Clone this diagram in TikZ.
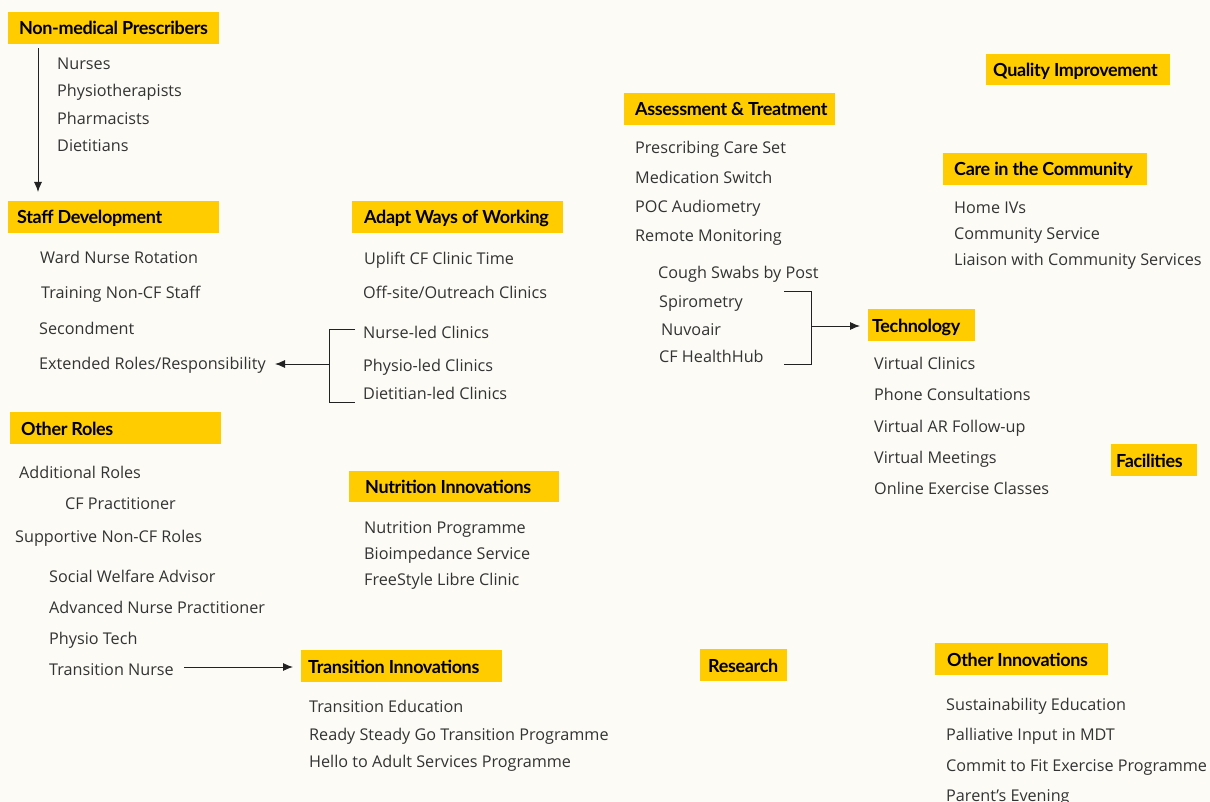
\documentclass[tikz,border=0pt]{standalone}
\usepackage{fontspec}
\setmainfont{Open Sans}
\newfontfamily\hdrfont[LetterSpace=-2]{Lato}
\usetikzlibrary{arrows.meta}
\definecolor{bg}{HTML}{FCFBF5}
\definecolor{cfy}{HTML}{FFCC00}
\definecolor{txt}{HTML}{333333}
\definecolor{ln}{HTML}{222222}
\tikzset{
  hdrbox/.style={fill=cfy, inner sep=0pt, anchor=north west},
  hdrtxt/.style={anchor=base west, inner sep=0pt, font=\hdrfont\bfseries\fontsize{18}{20}\selectfont, text=black},
  item/.style={anchor=base west, inner sep=0pt, font=\fontsize{16.2}{19}\selectfont, text=txt},
  conn/.style={draw=ln, line width=0.9pt},
  arr/.style={conn, -{Latex[length=10pt,width=8pt]}},
}
\newcommand\mkhdr[7]{%
  \node[hdrbox, minimum width={#4-#2}, minimum height={#5-#3}] (#1) at (#2,#3) {};
  \node[hdrtxt] (#1t) at (#6,{(#3+#5)/2+7}) {#7};}
\newcommand\itm[4]{\node[item] (#1) at (#2,{#3+1}) {#4};}
\begin{document}
\begin{tikzpicture}[x=1pt,y=-1pt]
\useasboundingbox[fill=bg] (0,0) rectangle (1210,802);
% headers
\mkhdr{nmp}{8}{12}{219}{44}{19}{Non-medical Prescribers}
\mkhdr{staff}{8}{201}{219}{233}{17}{Staff Development}
\mkhdr{adapt}{352}{201}{563}{233}{364}{Adapt Ways of Working}
\mkhdr{oroles}{10}{412}{221}{444}{21}{Other Roles}
\mkhdr{nutr}{349}{471}{559}{502}{365}{Nutrition Innovations}
\mkhdr{trans}{301}{650}{502}{682}{308}{Transition Innovations}
\mkhdr{assess}{624}{93}{835}{125}{635}{Assessment \& Treatment}
\mkhdr{qi}{986}{54}{1170}{85}{993}{Quality Improvement}
\mkhdr{care}{943}{153}{1147}{185}{954}{Care in the Community}
\mkhdr{tech}{868}{309}{975}{341}{872}{Technology}
\mkhdr{fac}{1111}{444}{1197}{476}{1116}{Facilities}
\mkhdr{res}{700}{649}{787}{681}{708}{Research}
\mkhdr{oinn}{935}{643}{1108}{675}{947}{Other Innovations}
% Non-medical prescribers
\itm{n1}{57}{69}{Nurses}
\itm{n2}{57}{96}{Physiotherapists}
\itm{n3}{57}{123.5}{Pharmacists}
\itm{n4}{57}{151}{Dietitians}
% Staff development
\itm{s1}{40}{262.5}{Ward Nurse Rotation}
\itm{s2}{41}{297.5}{Training Non-CF Staff}
\itm{s3}{39}{333.5}{Secondment}
\itm{s4}{39}{368.5}{Extended Roles/Responsibility}
% Adapt ways of working
\itm{a1}{364}{263.5}{Uplift CF Clinic Time}
\itm{a2}{363}{297.5}{Off-site/Outreach Clinics}
\itm{a3}{363}{337.5}{Nurse-led Clinics}
\itm{a4}{363}{370.5}{Physio-led Clinics}
\itm{a5}{363}{398.5}{Dietitian-led Clinics}
% Other roles
\itm{o1}{19}{477.5}{Additional Roles}
\itm{o2}{65}{508.5}{CF Practitioner}
\itm{o3}{15}{541.5}{Supportive Non-CF Roles}
\itm{o4}{49}{581.5}{Social Welfare Advisor}
\itm{o5}{49}{612.5}{Advanced Nurse Practitioner}
\itm{o6}{49}{643.5}{Physio Tech}
\itm{o7}{49}{674.5}{Transition Nurse}
% Nutrition
\itm{u1}{364}{532.5}{Nutrition Programme}
\itm{u2}{364}{558.5}{Bioimpedance Service}
\itm{u3}{364}{584.5}{FreeStyle Libre Clinic}
% Transition
\itm{t1}{309}{711.5}{Transition Education}
\itm{t2}{309}{739.5}{Ready Steady Go Transition Programme}
\itm{t3}{309}{766.5}{Hello to Adult Services Programme}
% Assessment
\itm{e1}{635}{152.5}{Prescribing Care Set}
\itm{e2}{635}{182.5}{Medication Switch}
\itm{e3}{635}{211.5}{POC Audiometry}
\itm{e4}{635}{240.5}{Remote Monitoring}
\itm{e5}{658}{277.5}{Cough Swabs by Post}
\itm{e6}{659}{306.5}{Spirometry}
\itm{e7}{661}{334.5}{Nuvoair}
\itm{e8}{659}{361.5}{CF HealthHub}
% Care in the community
\itm{c1}{954}{212.5}{Home IVs}
\itm{c2}{954}{238.5}{Community Service}
\itm{c3}{954}{264.5}{Liaison with Community Services}
% Technology
\itm{g1}{874}{368.5}{Virtual Clinics}
\itm{g2}{874}{399.5}{Phone Consultations}
\itm{g3}{874}{431.5}{Virtual AR Follow-up}
\itm{g4}{874}{462.5}{Virtual Meetings}
\itm{g5}{874}{493.5}{Online Exercise Classes}
% Other innovations
\itm{i1}{946}{709.5}{Sustainability Education}
\itm{i2}{946}{739.5}{Palliative Input in MDT}
\itm{i3}{946}{770.5}{Commit to Fit Exercise Programme}
\itm{i4}{946}{800.5}{Parent’s Evening}
% connectors
\coordinate (nmpA) at ([shift={(30,4)}]nmp.south west);
\coordinate (nmpB) at ([shift={(30,-9)}]staff.north west);
\draw[arr] (nmpA) -- (nmpB);
% adapt bracket
\coordinate (abT) at (355,329);
\coordinate (abTc) at (329,329);
\coordinate (abBc) at (329,402);
\coordinate (abB) at (355,402);
\coordinate (abM) at (329,364);
\coordinate (abE) at (275,364);
\draw[conn] (abT) -- (abTc) -- (abBc) -- (abB);
\draw[arr] (abM) -- (abE);
% technology bracket
\coordinate (tbT) at (784,291);
\coordinate (tbTc) at (811,291);
\coordinate (tbBc) at (811,364);
\coordinate (tbB) at (784,364);
\coordinate (tbM) at (811,326);
\draw[conn] (tbT) -- (tbTc) -- (tbBc) -- (tbB);
\draw[arr, shorten >=8pt] (tbM) -- (tbM -| tech.west);
% transition arrow
\coordinate (trA) at (184,667);
\draw[arr, shorten >=8pt] (trA) -- (trA -| trans.west);
\end{tikzpicture}
\end{document}
